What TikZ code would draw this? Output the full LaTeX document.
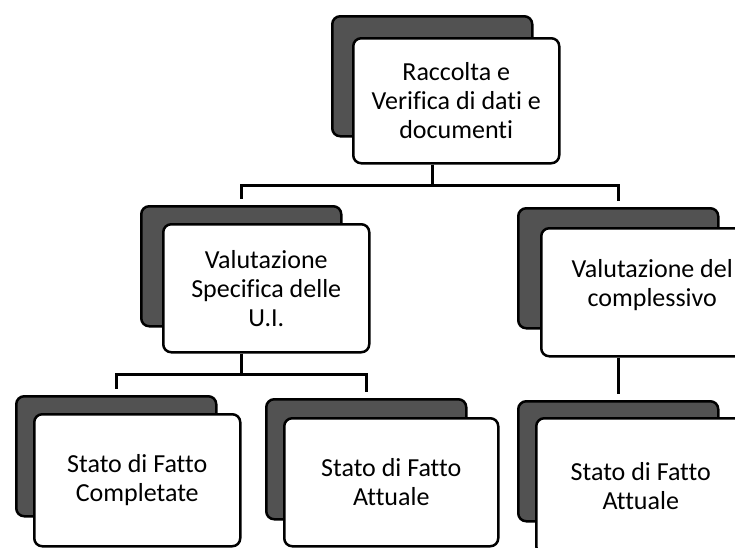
\documentclass[tikz,border=0pt]{standalone}
\usepackage{fontspec}
\setmainfont{Carlito}[Ligatures=NoCommon]
\usepackage{tikz}
\usetikzlibrary{positioning}

\begin{document}
\begin{tikzpicture}[
  x=1pt, y=-1pt,
  every node/.style={font=\fontsize{26}{29}\selectfont},
  backbox/.style={rectangle, draw=black, fill=black!68, line width=2.5pt, rounded corners=8pt, minimum width=200pt, minimum height=120pt, anchor=north west, inner sep=0pt},
  frontbox/.style={rectangle, draw=black, fill=white, line width=2.5pt, rounded corners=8pt, minimum width=206pt, minimum height=128pt, anchor=north west, align=center, inner sep=4pt},
  link/.style={draw=black, line width=2.7pt, shorten >=6pt}
]
\useasboundingbox (0,0) rectangle (735,547);
\clip (0,0) rectangle (735,547);

% Raccolta
\node[backbox] (raccolta back) at (331,15) {};
\node[frontbox, minimum height=125pt] (raccolta) at ([shift={(21,22)}]raccolta back.north west) {Raccolta e\\Verifica di dati e\\documenti};

% Valutazioni
\node[backbox] (specifica back) at (140,205) {};
\node[frontbox] (specifica) at ([shift={(22,18)}]specifica back.north west) {Valutazione\\Specifica delle\\U.I.};

\node[backbox] (complessivo back) at (517,207) {};
\node[frontbox, minimum width=222pt, text depth=18pt] (complessivo) at ([shift={(23,20)}]complessivo back.north west) {Valutazione del\\complessivo};

% Stato di Fatto
\node[backbox] (completate back) at (15,395) {};
\node[frontbox, minimum height=132pt] (completate) at ([shift={(18,18)}]completate back.north west) {Stato di Fatto\\Completate};

\node[backbox] (attuale back) at (265,398) {};
\node[frontbox, minimum width=214pt] (attuale) at ([shift={(18,19)}]attuale back.north west) {Stato di Fatto\\Attuale};

\node[backbox] (attualec back) at (517,400) {};
\node[frontbox, minimum width=209pt, minimum height=136pt] (attualec) at ([shift={(18,17)}]attualec back.north west) {Stato di Fatto\\Attuale};

% Connections
\draw[link] (raccolta back |- raccolta.south) -- ++(0,21) -| (specifica back.north);
\draw[link] (raccolta back |- raccolta.south) -- ++(0,21) -| (complessivo back.north);

\draw[link] (specifica back |- specifica.south) -- ++(0,21) -| (completate back.north);
\draw[link] (specifica back |- specifica.south) -- ++(0,21) -| (attuale back.north);

\draw[link] (complessivo back |- complessivo.south) -- (attualec back.north);

\end{tikzpicture}
\end{document}
